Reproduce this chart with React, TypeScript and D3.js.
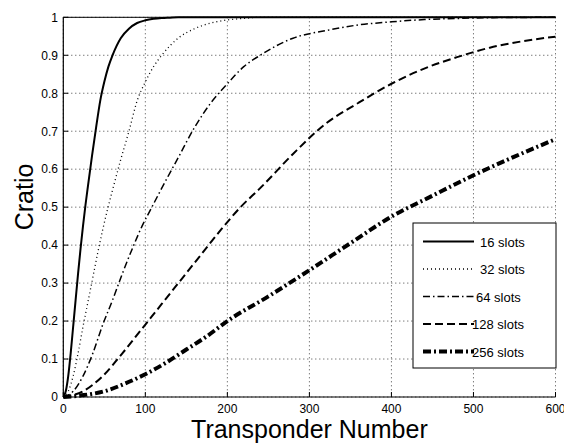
import React from "react";
import * as d3 from "d3";

// ---- data ----
const xTicks = [0, 100, 200, 300, 400, 500, 600];
const yTicks = [0, 0.1, 0.2, 0.3, 0.4, 0.5, 0.6, 0.7, 0.8, 0.9, 1];
const yTickLabels = ["0", "0.1", "0.2", "0.3", "0.4", "0.5", "0.6", "0.7", "0.8", "0.9", "1"];

const seriesNames = ["16 slots", "32 slots", "64 slots", "128 slots", "256 slots"];

const x16 = [0, 3, 6, 9, 12, 15, 18, 21, 24, 27, 30, 35, 40, 45, 50, 55, 60, 70, 80, 90, 100, 110, 120, 130, 140, 600];
const y16 = [0, 0.015, 0.055, 0.115, 0.185, 0.255, 0.325, 0.39, 0.45, 0.505, 0.555, 0.635, 0.71, 0.78, 0.83, 0.87, 0.9, 0.945, 0.97, 0.985, 0.992, 0.996, 0.998, 0.999, 1, 1];

const x32 = [0, 6, 12, 18, 24, 30, 36, 42, 48, 54, 60, 70, 80, 90, 100, 110, 120, 140, 160, 180, 200, 220, 240, 600];
const y32 = [0, 0.015, 0.055, 0.115, 0.185, 0.25, 0.315, 0.38, 0.44, 0.495, 0.545, 0.625, 0.7, 0.78, 0.83, 0.87, 0.9, 0.945, 0.97, 0.985, 0.993, 0.997, 1, 1];

const x64 = [0, 12, 24, 36, 48, 60, 72, 84, 96, 108, 120, 140, 160, 180, 200, 220, 240, 280, 320, 360, 400, 440, 480, 520, 600];
const y64 = [0, 0.015, 0.055, 0.115, 0.19, 0.255, 0.325, 0.39, 0.45, 0.5, 0.55, 0.63, 0.71, 0.775, 0.825, 0.87, 0.9, 0.945, 0.965, 0.98, 0.988, 0.994, 0.997, 0.999, 1];

const x128 = [0, 24, 48, 72, 96, 120, 144, 168, 192, 216, 240, 280, 320, 360, 400, 440, 480, 520, 560, 600];
const y128 = [0, 0.015, 0.055, 0.115, 0.18, 0.245, 0.31, 0.375, 0.44, 0.5, 0.55, 0.64, 0.72, 0.775, 0.825, 0.865, 0.895, 0.92, 0.937, 0.949];

const x256 = [0, 25, 50, 75, 100, 125, 150, 175, 200, 250, 300, 350, 400, 450, 500, 550, 600];
const y256 = [0, 0.005, 0.015, 0.035, 0.06, 0.09, 0.125, 0.16, 0.2, 0.265, 0.334, 0.405, 0.475, 0.53, 0.584, 0.633, 0.679];

const seriesX = [x16, x32, x64, x128, x256];
const seriesY = [y16, y32, y64, y128, y256];

// ---- styles ----
const styles = [
  { width: 2, dash: "none" },
  { width: 1.3, dash: "1,3" },
  { width: 1.5, dash: "7,3,1.5,3" },
  { width: 2, dash: "8,4" },
  { width: 4, dash: "8,3,2,3" },
];

const W = 564;
const H = 444;
const L = 63.3;
const R = 555.5;
const T = 17.3;
const B = 397;

export default function App() {
  const x = d3.scaleLinear().domain([0, 600]).range([L, R]);
  const y = d3.scaleLinear().domain([0, 1]).range([B, T]);
  const line = d3
    .line<[number, number]>()
    .x((d) => x(d[0]))
    .y((d) => y(d[1]))
    .curve(d3.curveMonotoneX);

  const font = "'Liberation Sans', Arial, Helvetica, sans-serif";
  const legX = 413;
  const legY = 223;
  const legW = 143;
  const legH = 145;
  const rowH = 27.5;
  const textOffsets = [480, 480, 476, 472, 472];

  return (
    <svg
      width={W}
      height={H}
      style={{ position: "absolute", left: 0, top: 0, background: "#fff" }}
      fontFamily={font}
    >
      <rect x={0} y={0} width={W} height={H} fill="#fff" />
      {/* grid */}
      {xTicks.map((t) => (
        <line key={"gx" + t} x1={x(t)} x2={x(t)} y1={T} y2={B} stroke="#444" strokeWidth={1} strokeDasharray="1,3" />
      ))}
      {yTicks.map((t) => (
        <line key={"gy" + t} x1={L} x2={R} y1={y(t)} y2={y(t)} stroke="#444" strokeWidth={1} strokeDasharray="1,3" />
      ))}
      {/* curves */}
      {seriesX.map((xs, i) => {
        const pts = xs.map((v, j) => [v, seriesY[i][j]] as [number, number]);
        return (
          <path
            key={"s" + i}
            d={line(pts) || ""}
            fill="none"
            stroke="#000"
            strokeWidth={styles[i].width}
            strokeDasharray={styles[i].dash}
            strokeLinejoin="round"
          />
        );
      })}
      {/* axes lines */}
      <line x1={L} x2={L} y1={T} y2={B} stroke="#000" strokeWidth={1.2} />
      <line x1={L} x2={R} y1={B} y2={B} stroke="#000" strokeWidth={1.2} />
      <line x1={L} x2={R} y1={T} y2={T} stroke="#000" strokeWidth={1} />
      {/* ticks */}
      {xTicks.map((t) => (
        <g key={"tx" + t}>
          <line x1={x(t)} x2={x(t)} y1={B} y2={B - 5} stroke="#000" />
          <text x={x(t)} y={413} fontSize={12} textAnchor="middle" fill="#000">
            {t}
          </text>
        </g>
      ))}
      {yTicks.map((t, i) => (
        <g key={"ty" + t}>
          <line x1={L} x2={L + 5} y1={y(t)} y2={y(t)} stroke="#000" />
          <text x={58} y={y(t) + 4.3} fontSize={12} textAnchor="end" fill="#000">
            {yTickLabels[i]}
          </text>
        </g>
      ))}
      {/* axis labels */}
      <text x={(L + R) / 2} y={438} fontSize={25} textAnchor="middle" fill="#000">
        Transponder Number
      </text>
      <text
        transform={`translate(33, 197) rotate(-90)`}
        fontSize={25}
        textAnchor="middle"
        fill="#000"
      >
        Cratio
      </text>
      {/* legend */}
      <rect x={legX} y={legY} width={legW} height={legH} fill="#fff" stroke="#000" strokeWidth={1} />
      {seriesNames.map((name, i) => {
        const by = legY + 23.5 + i * rowH;
        return (
          <g key={"lg" + i}>
            <line
              x1={423}
              x2={474}
              y1={by - 5}
              y2={by - 5}
              stroke="#000"
              strokeWidth={styles[i].width}
              strokeDasharray={styles[i].dash}
            />
            <text x={textOffsets[i]} y={by} fontSize={13} fill="#000">
              {name}
            </text>
          </g>
        );
      })}
    </svg>
  );
}
